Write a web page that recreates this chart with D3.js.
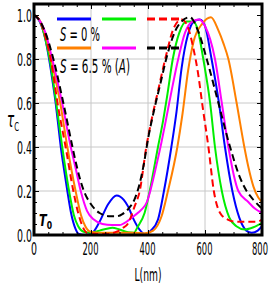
<!DOCTYPE html>
<html>
<head>
<meta charset="utf-8">
<script src="https://cdn.jsdelivr.net/npm/d3@7/dist/d3.min.js"></script>
<style>
  body { margin: 0; background: #fff; }
  svg { display: block; }
  text { font-family: "Liberation Sans Narrow", "DejaVu Sans Condensed", sans-serif; }
</style>
</head>
<body>
<svg id="chart"></svg>
<script>
// tick values
const xTicks = [0, 200, 400, 600, 800];
const yTicks = [0, 0.2, 0.4, 0.6, 0.8, 1.0];

// transmission curves, [L (nm), T]
const blueS0 = [[0,1],[20,0.97],[40,0.89],[53,0.80],[65,0.70],[76,0.60],[85,0.50],[94,0.40],[104,0.31],[117,0.20],
  [130,0.10],[145,0.03],[157,0.005],[180,0],[205,0.01],[230,0.06],[260,0.14],[290,0.18],[315,0.16],[330,0.13],
  [350,0.07],[370,0.025],[388,0.005],[410,0.02],[435,0.07],[456,0.20],[482,0.40],[500,0.56],[518,0.76],[540,0.91],
  [560,0.97],[582,0.98],[600,0.95],[623,0.80],[649,0.60],[670,0.40],[696,0.20],[720,0.08],[745,0.02],[764,0.01],
  [785,0.02],[800,0.04]];
const greenS0 = [[0,1],[20,0.975],[40,0.89],[55,0.80],[78,0.60],[99,0.40],[123,0.20],[140,0.09],[155,0.04],[174,0.015],
  [200,0.01],[230,0.02],[260,0.03],[275,0.033],[300,0.025],[330,0.012],[350,0.01],[365,0.04],[388,0.10],[406,0.20],
  [435,0.40],[453,0.52],[467,0.63],[487,0.80],[510,0.92],[535,0.97],[559,0.97],[575,0.93],[594,0.80],[618,0.60],
  [635,0.40],[659,0.20],[685,0.08],[710,0.04],[740,0.025],[770,0.035],[800,0.055]];
const redS0 = [[0,1],[20,0.975],[40,0.90],[60,0.79],[85,0.58],[111,0.40],[138,0.20],[155,0.10],[170,0.04],[186,0.01],
  [220,0.005],[260,0.005],[290,0.015],[310,0.03],[330,0.053],[353,0.13],[371,0.20],[394,0.40],[412,0.52],[436,0.66],
  [466,0.83],[490,0.94],[518,0.98],[535,0.96],[559,0.85],[575,0.74],[592,0.58],[612,0.40],[631,0.20],[653,0.10],
  [680,0.07],[710,0.06],[750,0.06],[780,0.06],[800,0.07]];
const orangeS65 = [[0,1],[20,0.975],[40,0.91],[60,0.80],[92,0.60],[117,0.40],[146,0.20],[165,0.09],[180,0.04],[198,0.015],
  [230,0.01],[270,0.01],[310,0.01],[350,0.01],[390,0.008],[418,0.02],[447,0.083],[470,0.20],[503,0.40],[521,0.55],
  [541,0.75],[560,0.88],[590,0.96],[621,0.99],[647,0.93],[665,0.87],[682,0.80],[711,0.60],[738,0.40],[752,0.31],
  [770,0.22],[787,0.17],[800,0.15]];
const magentaS65 = [[0,1],[20,0.975],[40,0.92],[64,0.80],[99,0.60],[129,0.40],[145,0.31],[164,0.20],[186,0.11],[210,0.07],
  [240,0.05],[274,0.045],[300,0.045],[330,0.065],[354,0.09],[377,0.115],[396,0.15],[410,0.21],[430,0.32],[447,0.42],
  [464,0.53],[485,0.67],[506,0.80],[530,0.92],[555,0.97],[579,0.98],[600,0.95],[635,0.80],[659,0.60],[682,0.40],
  [717,0.20],[752,0.15],[775,0.12],[800,0.10]];
const blackS65 = [[0,1],[20,0.975],[40,0.92],[68,0.80],[103,0.60],[135,0.40],[145,0.34],[175,0.20],[200,0.14],[230,0.10],
  [267,0.085],[290,0.085],[310,0.095],[332,0.12],[352,0.16],[368,0.22],[385,0.32],[402,0.45],[420,0.56],[442,0.68],
  [470,0.83],[505,0.95],[547,0.99],[575,0.93],[606,0.80],[647,0.60],[688,0.40],[720,0.27],[746,0.20],[770,0.16],
  [800,0.12]];

const series = [
  { data: blueS0, color: '#0000ff', dash: null },
  { data: greenS0, color: '#00ee00', dash: null },
  { data: orangeS65, color: '#ff8000', dash: null },
  { data: magentaS65, color: '#ff00ff', dash: null },
  { data: redS0, color: '#ff0000', dash: '7,4' },
  { data: blackS65, color: '#000000', dash: '7,4' }
];

// set the dimensions and margins of the graph
const margin = { top: 4, right: 9, bottom: 53, left: 34 };
const width = 271 - margin.left - margin.right;
const height = 288 - margin.top - margin.bottom;

const root = d3.select('#chart')
  .attr('width', width + margin.left + margin.right)
  .attr('height', height + margin.top + margin.bottom);
const svg = root.append('g')
  .attr('transform', 'translate(' + margin.left + ',' + margin.top + ')');

const x = d3.scaleLinear().domain([0, 800]).range([0, width]);
const y = d3.scaleLinear().domain([0, 1.05]).range([height, 0]);

// squeeze a text horizontally to a given width, keeping its anchor point
function squeeze(t, px, py, len) {
  const natural = t.node().getComputedTextLength();
  t.attr('x', 0).attr('y', 0)
    .attr('transform', 'translate(' + px + ',' + py + ') scale(' + (len / natural) + ',1)');
}

// grid lines
svg.append('g').selectAll('line')
  .data(xTicks.slice(1, -1))
  .enter().append('line')
  .attr('x1', d => x(d)).attr('x2', d => x(d))
  .attr('y1', 0).attr('y2', height)
  .attr('stroke', '#c8c8c8').attr('stroke-width', 1);
svg.append('g').selectAll('line')
  .data(yTicks.slice(1, -1))
  .enter().append('line')
  .attr('x1', 0).attr('x2', width)
  .attr('y1', d => y(d)).attr('y2', d => y(d))
  .attr('stroke', '#c8c8c8').attr('stroke-width', 1);

// curves
svg.append('clipPath').attr('id', 'clip')
  .append('rect').attr('width', width).attr('height', height);

const line = d3.line()
  .x(d => x(d[0]))
  .y(d => y(d[1]))
  .curve(d3.curveMonotoneX);

svg.append('g').attr('clip-path', 'url(#clip)')
  .selectAll('path')
  .data(series)
  .enter().append('path')
  .attr('d', d => line(d.data))
  .attr('fill', 'none')
  .attr('stroke', d => d.color)
  .attr('stroke-width', 2)
  .attr('stroke-dasharray', d => d.dash);

// frame ticks (major + minor on all sides, pointing in)
const xMinor = d3.range(0, 801, 50).filter(v => v % 200 !== 0);
const yMinor = d3.range(0, 21, 1).map(v => v * 0.05).filter((v, i) => i % 4 !== 0);

function frameAxis(axisFn, scale, values, size, transform) {
  const g = svg.append('g')
    .attr('transform', transform)
    .call(axisFn(scale).tickValues(values).tickSizeInner(-size).tickSizeOuter(0).tickFormat(''));
  g.select('.domain').remove();
  return g;
}
frameAxis(d3.axisBottom, x, xMinor, 3, 'translate(0,' + height + ')');
frameAxis(d3.axisTop, x, xMinor, 3, 'translate(0,0)');
frameAxis(d3.axisTop, x, xTicks, 5, 'translate(0,0)');
frameAxis(d3.axisLeft, y, yMinor, 3, 'translate(0,0)');
frameAxis(d3.axisRight, y, yMinor, 3, 'translate(' + width + ',0)');
frameAxis(d3.axisRight, y, yTicks, 5, 'translate(' + width + ',0)');

// labelled axes (labels squeezed to the narrow look of the original)
const xAxis = svg.append('g')
  .attr('transform', 'translate(0,' + height + ')')
  .call(d3.axisBottom(x).tickValues(xTicks).tickSizeInner(-5).tickSizeOuter(0));
xAxis.select('.domain').remove();
xAxis.selectAll('text').each(function (d) {
  const t = d3.select(this).attr('font-size', 17).attr('fill', '#000').attr('dy', null);
  squeeze(t, d === 800 ? -2.5 : (d === 0 ? -0.5 : -1), 20, d === 0 ? 6 : 16);
});

const yAxis = svg.append('g')
  .call(d3.axisLeft(y).tickValues(yTicks).tickSizeInner(-5).tickSizeOuter(0)
    .tickFormat(d3.format('.1f')));
yAxis.select('.domain').remove();
yAxis.selectAll('text').each(function () {
  const t = d3.select(this).attr('font-size', 17).attr('fill', '#000').attr('dy', null);
  squeeze(t, -2, 6, 15);
});

// frame
svg.append('rect')
  .attr('width', width).attr('height', height)
  .attr('fill', 'none').attr('stroke', '#000').attr('stroke-width', 3);

// axis titles
const xTitle = root.append('text')
  .attr('text-anchor', 'middle').attr('font-size', 18)
  .text('L(nm)');
squeeze(xTitle, margin.left + width / 2, 281, 27);

const tau = root.append('text').attr('font-size', 21);
tau.append('tspan').attr('font-style', 'italic').text('τ');
tau.append('tspan').attr('font-size', 12).attr('dy', 4).text('C');
squeeze(tau, 7, 127, 12);

const t0 = svg.append('text').attr('font-size', 16).attr('font-weight', 'bold');
t0.append('tspan').attr('font-style', 'italic').text('T');
t0.append('tspan').attr('font-size', 11).attr('dy', 3).text('0');
squeeze(t0, 5, height - 9, 13);

// legend
const legendX = [[57, 91], [102, 136], [147, 181]];
const legendRows = [
  { y: 19, items: [series[0], series[1], series[4]], textY: 41, textLen: 40,
    parts: [['S', true], [' = 0 %', false]] },
  { y: 48, items: [series[2], series[3], series[5]], textY: 73, textLen: 70,
    parts: [['S', true], [' = 6.5 % (', false], ['A', true], [')', false]] }
];
legendRows.forEach(row => {
  row.items.forEach((s, i) => {
    root.append('line')
      .attr('x1', legendX[i][0]).attr('x2', legendX[i][1])
      .attr('y1', row.y).attr('y2', row.y)
      .attr('stroke', s.color).attr('stroke-width', 3)
      .attr('stroke-dasharray', s.dash ? '8,4' : null);
  });
  const t = root.append('text').attr('font-size', 19);
  row.parts.forEach(p => {
    t.append('tspan').attr('font-style', p[1] ? 'italic' : null).text(p[0]);
  });
  squeeze(t, 60, row.textY, row.textLen);
});
</script>
</body>
</html>
